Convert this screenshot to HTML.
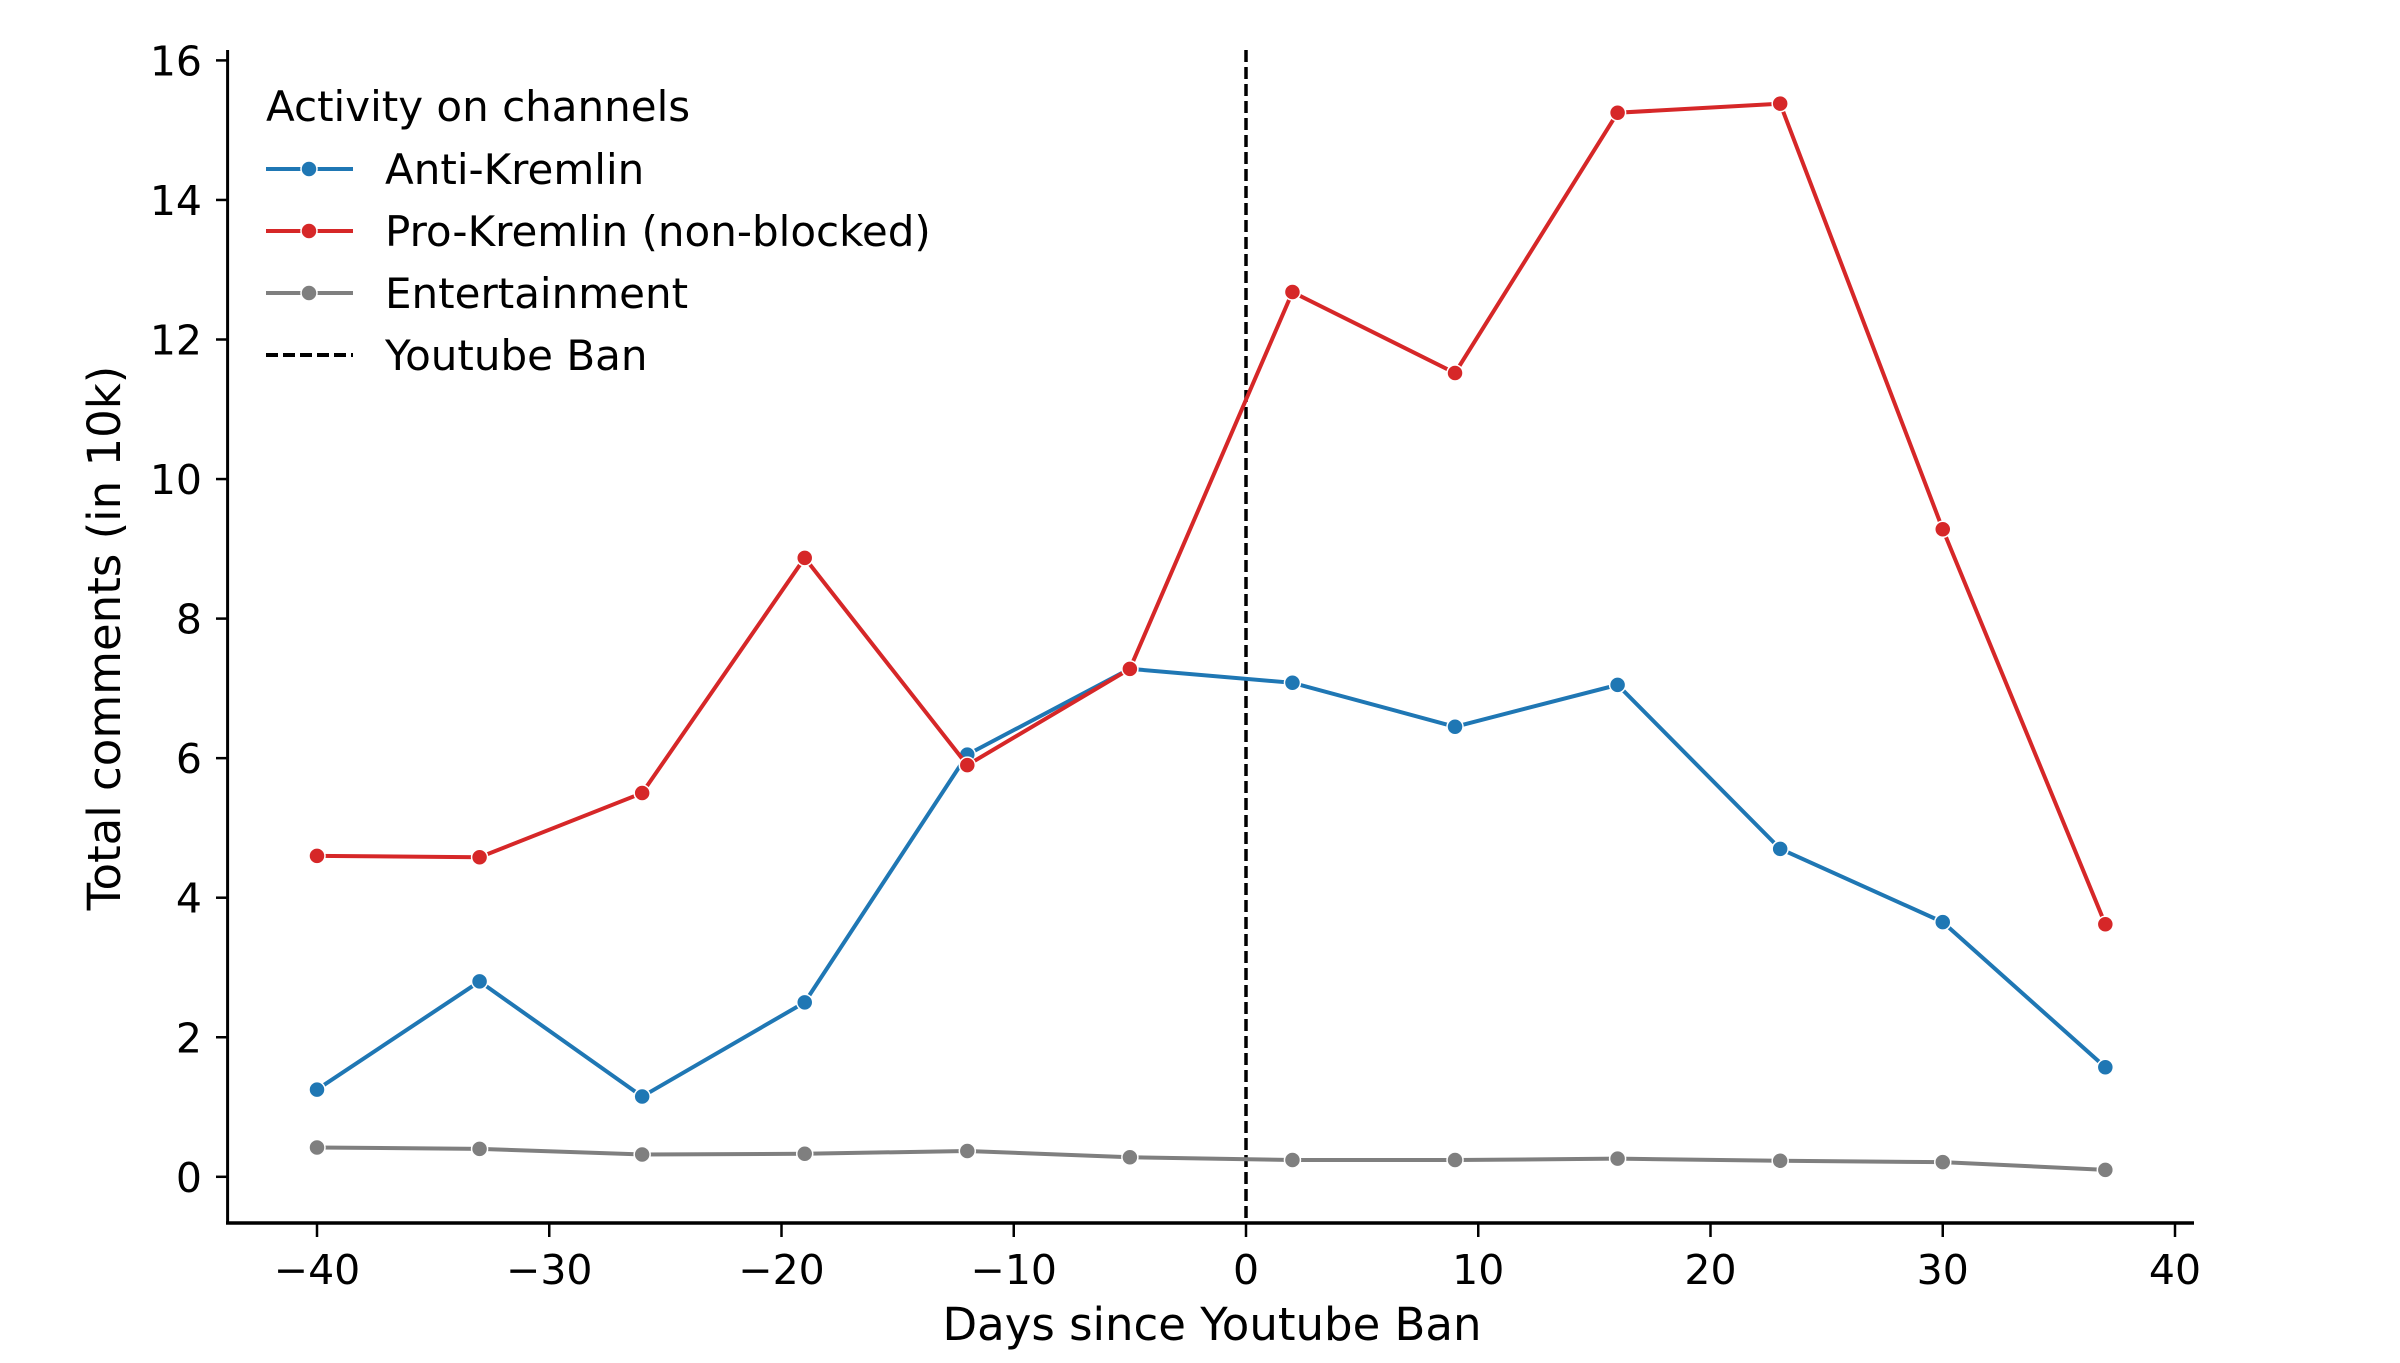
<!DOCTYPE html>
<html><head><meta charset="utf-8"><style>html,body{margin:0;padding:0;background:#fff}svg{display:block}text{font-family:"DejaVu Sans","Liberation Sans",sans-serif;fill:#000}</style></head>
<body>
<svg id="s" width="2400" height="1363" viewBox="0 0 2400 1363" xmlns="http://www.w3.org/2000/svg">
<g id="g"></g>
</svg>
<script>
const X=d=>1246+d*23.225, Y=v=>1176.8-v*69.775;
const days=[-40,-33,-26,-19,-12,-5,2,9,16,23,30,37];
const anti=[1.25,2.8,1.15,2.5,6.05,7.28,7.08,6.45,7.05,4.7,3.65,1.57];
const pro=[4.6,4.58,5.5,8.87,5.9,7.28,12.68,11.52,15.25,15.38,9.28,3.62];
const ent=[0.42,0.4,0.32,0.33,0.37,0.28,0.24,0.24,0.26,0.23,0.21,0.1];
let h='';
h+=`<line x1="227.6" y1="50" x2="227.6" y2="1224" stroke="#000" stroke-width="3"/>`;
h+=`<line x1="226" y1="1223" x2="2194" y2="1223" stroke="#000" stroke-width="3.5"/>`;
for(let v=0;v<=16;v+=2){const y=Y(v);h+=`<line x1="216" y1="${y}" x2="227.6" y2="${y}" stroke="#000" stroke-width="2.5"/><text x="202" y="${y+15}" font-size="41" text-anchor="end">${v}</text>`;}
for(let d=-40;d<=40;d+=10){const x=X(d);h+=`<line x1="${x}" y1="1223" x2="${x}" y2="1237" stroke="#000" stroke-width="2.5"/><text x="${x}" y="1284" font-size="41" text-anchor="middle">${d<0?'\u2212'+(-d):d}</text>`;}
h+=`<text x="1212" y="1340" font-size="45" text-anchor="middle">Days since Youtube Ban</text>`;
h+=`<text transform="translate(120,638) rotate(-90)" font-size="45" text-anchor="middle">Total comments (in 10k)</text>`;
h+=`<line x1="${X(0)}" y1="50" x2="${X(0)}" y2="1223" stroke="#000" stroke-width="3.5" stroke-dasharray="12,5"/>`;
function series(vals,c){let p=days.map((d,i)=>X(d)+','+Y(vals[i])).join(' ');let s=`<polyline points="${p}" fill="none" stroke="${c}" stroke-width="4"/>`;days.forEach((d,i)=>{s+=`<circle cx="${X(d)}" cy="${Y(vals[i])}" r="8" fill="${c}" stroke="#fff" stroke-width="1.5"/>`});return s;}
h+=series(ent,'#7f7f7f');h+=series(anti,'#1f77b4');h+=series(pro,'#d62728');
h+=`<text x="266" y="121" font-size="42">Activity on channels</text>`;
const L=[['#1f77b4','Anti-Kremlin'],['#d62728','Pro-Kremlin (non-blocked)'],['#7f7f7f','Entertainment']];
L.forEach((l,i)=>{const y=169+i*62;h+=`<line x1="266" y1="${y}" x2="353" y2="${y}" stroke="${l[0]}" stroke-width="4"/><circle cx="309" cy="${y}" r="8" fill="${l[0]}" stroke="#fff" stroke-width="1.5"/><text x="385" y="${y+15}" font-size="42">${l[1]}</text>`;});
h+=`<line x1="266" y1="355" x2="353" y2="355" stroke="#000" stroke-width="4" stroke-dasharray="12,5"/><text x="385" y="370" font-size="42">Youtube Ban</text>`;
document.getElementById('g').innerHTML=h;
</script>
</body></html>
